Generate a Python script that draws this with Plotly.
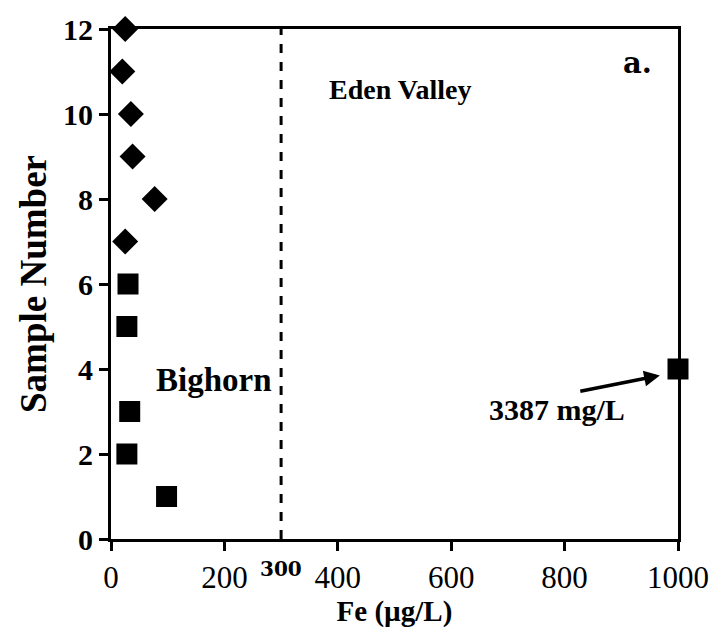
import plotly.graph_objects as go

# Fe concentration (µg/L) by sample
eden_samples = [7, 8, 9, 10, 11, 12]
eden_fe = [25, 77, 38, 35, 20, 25]

bighorn_samples = [1, 2, 3, 4, 5, 6]
bighorn_fe = [98, 28, 33, 3387, 28, 30]

x_max = 1000
threshold = 300
x_ticks = [0, 200, 400, 600, 800, 1000]
y_ticks = [0, 2, 4, 6, 8, 10, 12]

# values above the axis limit are pinned to the right edge
bighorn_plot = [min(v, x_max) for v in bighorn_fe]

SERIF = "Liberation Serif"

fig = go.Figure()
fig.add_trace(go.Scatter(
    x=eden_fe, y=eden_samples, mode="markers", name="Eden Valley",
    marker=dict(symbol="diamond", size=20, color="black"),
    cliponaxis=False,
))
fig.add_trace(go.Scatter(
    x=bighorn_plot, y=bighorn_samples, mode="markers", name="Bighorn",
    marker=dict(symbol="square", size=21, color="black"),
    cliponaxis=False,
))

# dashed boundary
fig.add_shape(type="line", xref="x", yref="y", x0=threshold, x1=threshold,
              y0=0, y1=12, line=dict(color="black", width=3, dash="dash"))

fig.add_annotation(x=510, y=10.58, text="<b>Eden Valley</b>", showarrow=False,
                   font=dict(family=SERIF, size=28, color="black"))
fig.add_annotation(x=182, y=3.75, text="<b>Bighorn</b>", showarrow=False,
                   font=dict(family=SERIF, size=33, color="black"))
fig.add_annotation(x=928, y=11.2, text="<b>a.</b>", showarrow=False,
                   font=dict(family="DejaVu Serif", size=29, color="black"))
fig.add_annotation(x=threshold, y=0, yref="y", text="<b>300</b>", showarrow=False,
                   yshift=-30, font=dict(family="DejaVu Serif", size=20, color="black"))

# out-of-range value
big_idx = bighorn_fe.index(max(bighorn_fe))
fig.add_annotation(x=786, y=3.05, text=f"<b>{bighorn_fe[big_idx]} mg/L</b>", showarrow=False,
                   font=dict(family=SERIF, size=30, color="black"))
fig.add_annotation(x=968, y=3.85, ax=825, ay=3.47, xref="x", yref="y",
                   axref="x", ayref="y", text="", showarrow=True,
                   arrowhead=2, arrowsize=0.9, arrowwidth=3.5, arrowcolor="black")

fig.update_xaxes(
    range=[0, x_max], tickvals=x_ticks, ticks="outside", ticklen=9, tickwidth=3,
    tickcolor="black", showline=True, linewidth=3, linecolor="black", mirror=True,
    showgrid=False, zeroline=False,
    tickfont=dict(family=SERIF, size=31, color="black"),
    title=dict(text="<b>Fe (µg/L)</b>", font=dict(family=SERIF, size=29, color="black"),
               standoff=4),
)
fig.update_yaxes(
    range=[0, 12], tickvals=y_ticks, ticks="outside", ticklen=9, tickwidth=3,
    tickcolor="black", showline=True, linewidth=3, linecolor="black", mirror=True,
    showgrid=False, zeroline=False,
    tickfont=dict(family=SERIF, size=30, color="black", weight="bold"),
    title=dict(text="<b>Sample Number</b>", font=dict(family=SERIF, size=37, color="black"),
               standoff=6),
)

fig.update_layout(
    width=721, height=637, showlegend=False,
    margin=dict(l=111, r=39, t=24, b=98),
    plot_bgcolor="white", paper_bgcolor="white",
)

fig.write_html("out.html")
